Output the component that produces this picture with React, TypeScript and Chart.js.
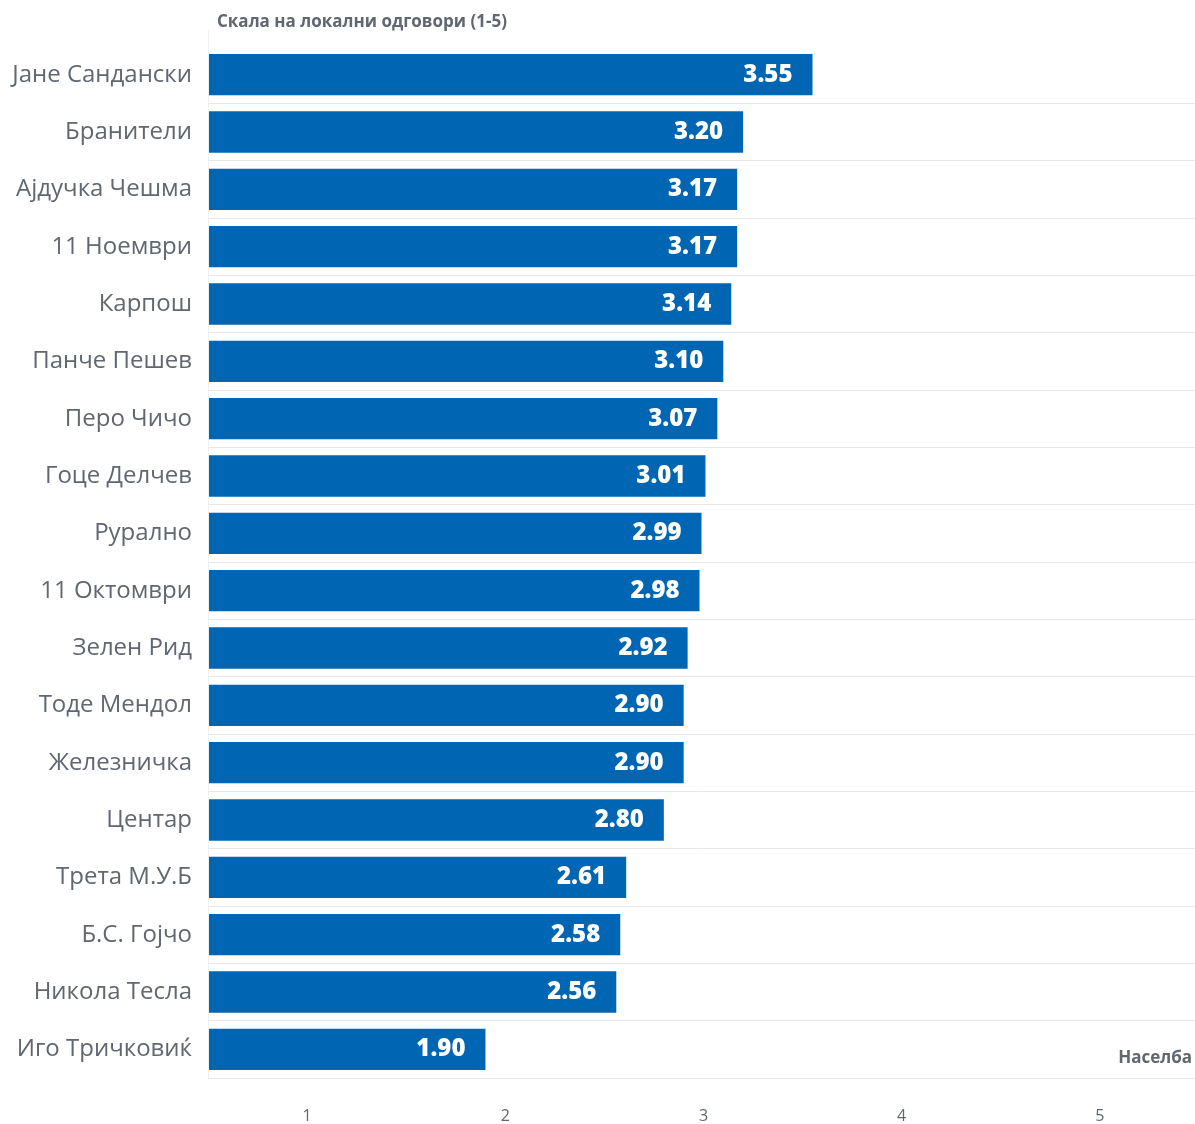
import React, { useEffect, useRef } from "react";
import { Chart, registerables } from "chart.js";

Chart.register(...registerables);

const categories = [
  "Јане Сандански",
  "Бранители",
  "Ајдучка Чешма",
  "11 Ноември",
  "Карпош",
  "Панче Пешев",
  "Перо Чичо",
  "Гоце Делчев",
  "Рурално",
  "11 Октомври",
  "Зелен Рид",
  "Тоде Мендол",
  "Железничка",
  "Центар",
  "Трета М.У.Б",
  "Б.С. Гојчо",
  "Никола Тесла",
  "Иго Тричковиќ",
];

const values = [3.55, 3.2, 3.17, 3.17, 3.14, 3.1, 3.07, 3.01, 2.99, 2.98, 2.92, 2.9, 2.9, 2.8, 2.61, 2.58, 2.56, 1.9];

const xTicks = [1, 2, 3, 4, 5];

const valueAxisTitle = "Скала на локални одговори (1-5)";
const categoryAxisTitle = "Населба";

const FONT = "'Open Sans', 'Noto Sans', sans-serif";
const TEXT = "#606770";
const BAR = "#0066b3";

const overlayPlugin = {
  id: "overlay",
  afterDatasetsDraw(chart: any) {
    const ctx = chart.ctx;
    const meta = chart.getDatasetMeta(0);
    ctx.save();
    ctx.fillStyle = "#ffffff";
    ctx.font = `800 24px ${FONT}`;
    ctx.textAlign = "right";
    ctx.textBaseline = "middle";
    meta.data.forEach((bar: any, i: number) => {
      ctx.fillText(values[i].toFixed(2), bar.x - 20, bar.y);
    });
    ctx.restore();
  },
  afterDraw(chart: any) {
    const ctx = chart.ctx;
    const area = chart.chartArea;
    ctx.save();
    ctx.strokeStyle = "#f0f0f0";
    ctx.lineWidth = 1;
    ctx.beginPath();
    ctx.moveTo(area.left + 0.5, 30);
    ctx.lineTo(area.left + 0.5, area.bottom);
    ctx.stroke();
    ctx.fillStyle = TEXT;
    ctx.font = `bold 17px ${FONT}`;
    ctx.textBaseline = "middle";
    ctx.textAlign = "left";
    ctx.fillText(valueAxisTitle, area.left + 9, 22);
    ctx.textAlign = "right";
    ctx.fillText(categoryAxisTitle, area.right - 3, area.bottom - 20);
    ctx.restore();
  },
};

export default function App() {
  const ref = useRef<HTMLCanvasElement>(null);
  useEffect(() => {
    document.body.style.margin = "0";
    const chart = new Chart(ref.current!, {
      type: "bar",
      data: {
        labels: categories,
        datasets: [
          {
            data: values,
            backgroundColor: BAR,
            barPercentage: 0.72,
            categoryPercentage: 1,
            base: 0,
          },
        ],
      },
      options: {
        indexAxis: "y",
        animation: false,
        responsive: true,
        maintainAspectRatio: false,
        layout: { padding: { top: 46, right: 0, left: 0, bottom: 0 } },
        plugins: { legend: { display: false }, tooltip: { enabled: false } },
        scales: {
          x: {
            min: 0.5,
            max: 5.48,
            afterBuildTicks(scale: any) {
              scale.ticks = xTicks.map((v) => ({ value: v }));
            },
            afterFit(scale: any) {
              scale.height = 46;
            },
            grid: { display: false, drawTicks: false },
            border: { display: false },
            ticks: {
              padding: 29,
              font: { family: FONT, size: 16 },
              color: TEXT,
            },
          },
          y: {
            afterFit(scale: any) {
              scale.width = 208;
            },
            grid: {
              offset: true,
              color: (c: any) => (c.index === 0 ? "rgba(0,0,0,0)" : "#e8e8e8"),
              lineWidth: 1,
              drawTicks: false,
            },
            border: { display: false },
            ticks: {
              padding: 16,
              font: { family: FONT, size: 24 },
              color: TEXT,
            },
          },
        },
      },
      plugins: [overlayPlugin],
    });
    return () => chart.destroy();
  }, []);
  return (
    <div style={{ width: 1195, height: 1124, position: "relative" }}>
      <canvas ref={ref} />
    </div>
  );
}
